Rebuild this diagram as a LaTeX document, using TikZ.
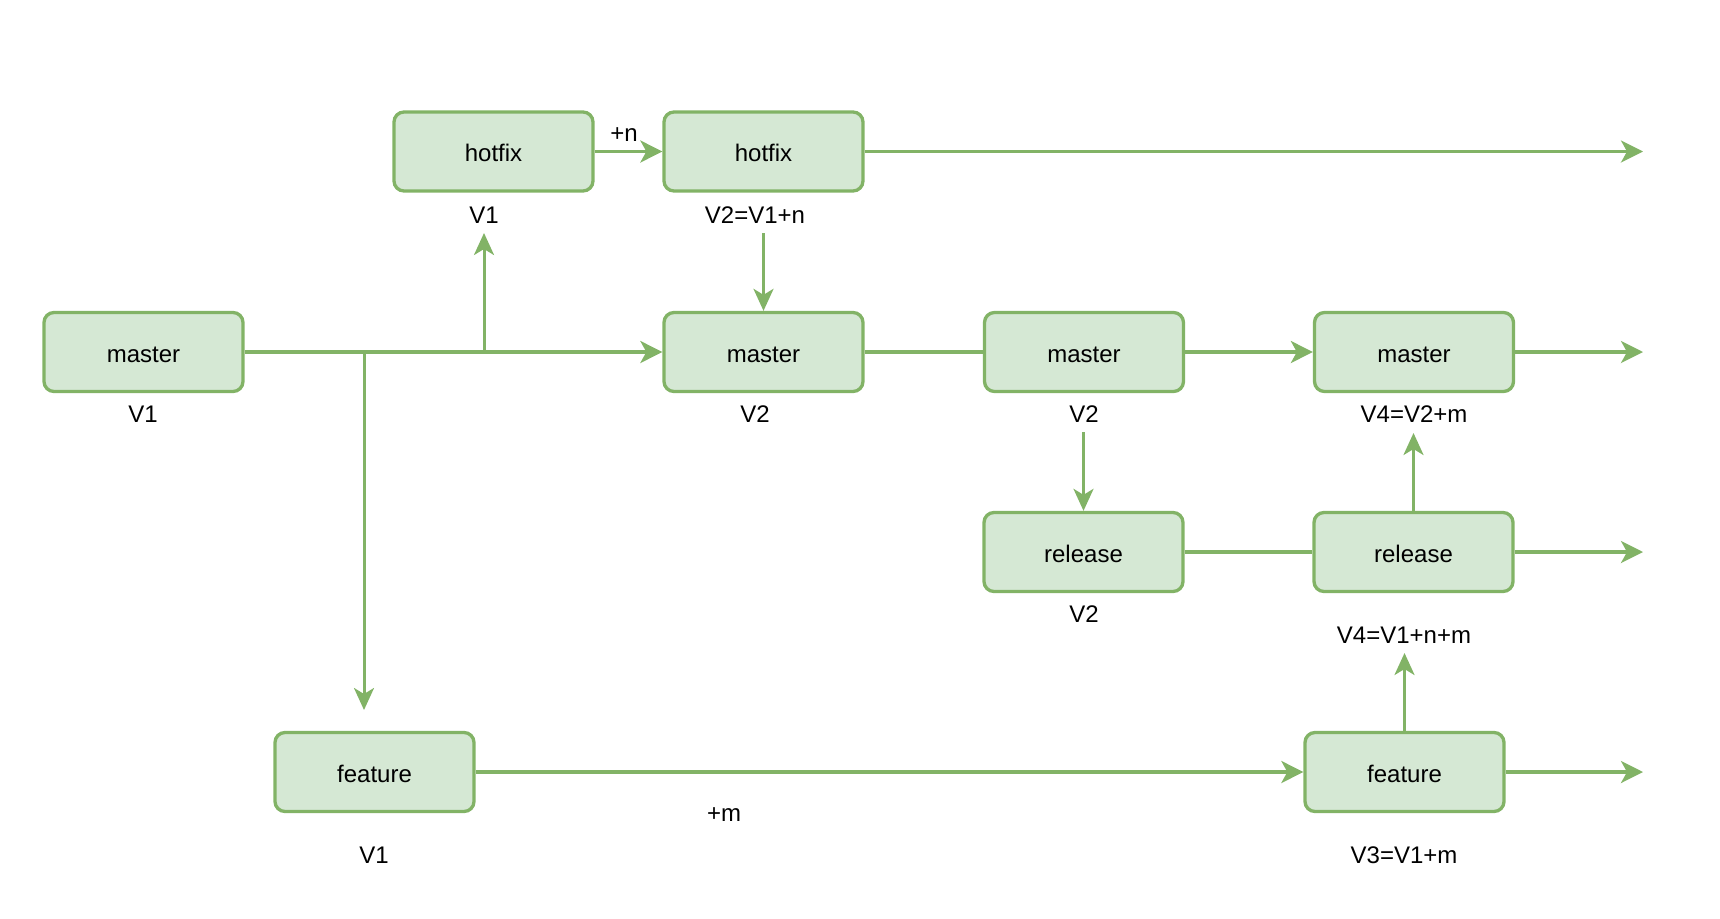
\documentclass[tikz,border=0pt]{standalone}
\usepackage{fontspec}
\setmainfont{Liberation Sans}
\usetikzlibrary{arrows.meta}
\definecolor{gfill}{HTML}{D5E8D4}
\definecolor{gline}{HTML}{82B366}
\begin{document}
\begin{tikzpicture}[x=1pt,y=-1pt,
  box/.style={draw=gline, fill=gfill, line width=3.3pt, rounded corners=10pt,
    minimum width=199pt, minimum height=79pt, inner sep=0pt,
    text height=20pt, text depth=0pt,
    font=\fontsize{24}{28}\selectfont},
  lbl/.style={inner sep=0pt, font=\fontsize{24}{28}\selectfont},
  conn/.style={draw=gline, line width=3.3pt},
  arr/.style={conn, -{Stealth[length=22pt,width=22pt,inset=6pt]}},
  vconn/.style={draw=gline, line width=3pt},
  varr/.style={vconn, -{Stealth[length=22pt,width=20pt,inset=6pt]}}]
\useasboundingbox (0,0) rectangle (1720,918);
% boxes
\node[box] (m1) at (143.5,352) {master};
\node[box] (h1) at (493.5,151.5) {hotfix};
\node[box] (h2) at (763.5,151.5) {hotfix};
\node[box] (m2) at (763.5,352) {master};
\node[box] (m3) at (1084,352) {master};
\node[box] (m4) at (1414,352) {master};
\node[box] (r1) at (1083.5,552) {release};
\node[box] (r2) at (1413.5,552) {release};
\node[box] (f1) at (374.5,772) {feature};
\node[box] (f2) at (1404.5,772) {feature};
% labels
\node[lbl] (lm1) at (143,414) {V1};
\node[lbl] (lh1) at (484,215) {V1};
\node[lbl] (lh2) at (755,215) {V2=V1+n};
\node[lbl] (lm2) at (755,414) {V2};
\node[lbl] (lm3) at (1084,414) {V2};
\node[lbl] (lm4) at (1414,414) {V4=V2+m};
\node[lbl] (lr1) at (1084,614) {V2};
\node[lbl] (lr2) at (1404,635) {V4=V1+n+m};
\node[lbl] (lpm) at (724,815) {+m};
\node[lbl] (lf1) at (374,855) {V1};
\node[lbl] (lf2) at (1404,855) {V3=V1+m};
\node[lbl] (lpn) at (624,135) {+n};
% coordinates
\coordinate (bu) at (484,352);
\coordinate (bue) at (484,233);
\coordinate (bd) at (364,352);
\coordinate (bde) at (364,710);
\coordinate (h2s) at (763.5,233);
\coordinate (m3s) at (1083.5,432);
\coordinate (r2e) at (1413.5,433);
\coordinate (f2e) at (1404.5,653);
\coordinate (eh) at (1643,151.5);
\coordinate (em) at (1643,352);
\coordinate (er) at (1643,552);
\coordinate (ef) at (1643,772);
% connectors
\draw[arr] (m1.east) -- (m2.west);
\draw[varr] (bu) -- (bue);
\draw[varr] (bd) -- (bde);
\draw[arr] (h1.east) -- (h2.west);
\draw[arr] (h2.east) -- (eh);
\draw[varr] (h2s) -- (m2.north);
\draw[conn] (m2.east) -- (m3.west);
\draw[arr] (m3.east) -- (m4.west);
\draw[arr] (m4.east) -- (em);
\draw[varr] (m3s) -- (r1.north);
\draw[conn] (r1.east) -- (r2.west);
\draw[varr] (r2.north) -- (r2e);
\draw[arr] (r2.east) -- (er);
\draw[arr] (f1.east) -- (f2.west);
\draw[arr] (f2.east) -- (ef);
\draw[varr] (f2.north) -- (f2e);
\end{tikzpicture}
\end{document}
